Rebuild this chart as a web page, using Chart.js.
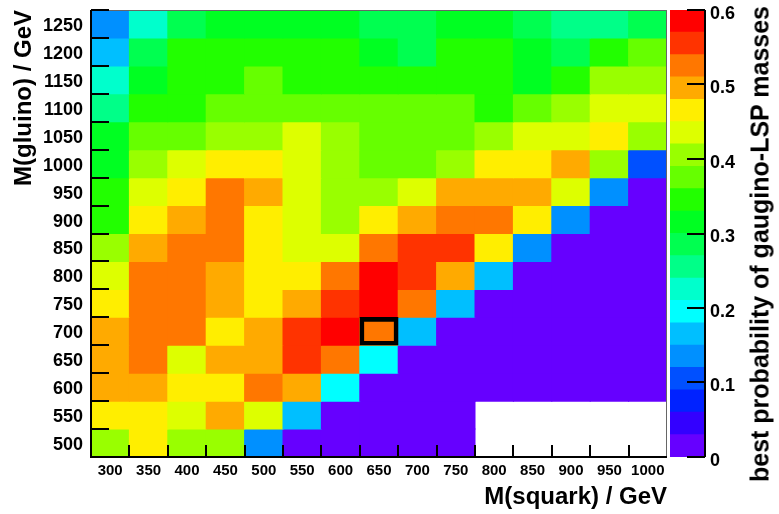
<!DOCTYPE html>
<html>
<head>
<meta charset="utf-8">
<script src="https://cdn.jsdelivr.net/npm/chart.js@4.4.1/dist/chart.umd.min.js"></script>
<style>
  body { margin: 0; background: #fff; }
  #wrap { position: relative; width: 779px; height: 514px; overflow: hidden; }
  canvas { position: absolute; top: 0; }
  #main { left: 0; }
  #scale { left: 660px; }
  #ztitle {
    position: absolute; left: 760px; top: 244px;
    transform: translate(-50%, -50%) rotate(-90deg);
    white-space: nowrap; color: #000;
    font: bold 25px 'Liberation Sans', Arial, sans-serif;
  }
</style>
</head>
<body>
<div id="wrap">
  <canvas id="main" width="779" height="514"></canvas>
  <canvas id="scale" width="119" height="514"></canvas>
  <div id="ztitle">best probability of gaugino-LSP masses</div>
</div>
<script>
// squark masses (columns) and gluino masses (rows, top to bottom)
const squark = ['300', '350', '400', '450', '500', '550', '600', '650', '700', '750', '800', '850', '900', '950', '1000'];
const gluino = [1250, 1200, 1150, 1100, 1050, 1000, 950, 900, 850, 800, 750, 700, 650, 600, 550, 500];

// best probability per cell, one row per gluino mass
const p1250 = [0.135, 0.225, 0.285, 0.315, 0.315, 0.315, 0.315, 0.285, 0.285, 0.315, 0.315, 0.285, 0.255, 0.255, 0.285];
const p1200 = [0.165, 0.285, 0.345, 0.345, 0.345, 0.345, 0.345, 0.315, 0.285, 0.345, 0.345, 0.315, 0.285, 0.345, 0.375];
const p1150 = [0.225, 0.315, 0.345, 0.345, 0.375, 0.345, 0.345, 0.345, 0.345, 0.345, 0.345, 0.315, 0.345, 0.405, 0.405];
const p1100 = [0.255, 0.345, 0.345, 0.375, 0.375, 0.375, 0.375, 0.375, 0.375, 0.375, 0.345, 0.375, 0.405, 0.435, 0.435];
const p1050 = [0.315, 0.375, 0.375, 0.405, 0.405, 0.435, 0.405, 0.375, 0.375, 0.375, 0.405, 0.435, 0.435, 0.465, 0.405];
const p1000 = [0.315, 0.405, 0.435, 0.465, 0.465, 0.435, 0.405, 0.375, 0.375, 0.405, 0.465, 0.465, 0.495, 0.405, 0.105];
const p950  = [0.345, 0.435, 0.465, 0.525, 0.495, 0.435, 0.405, 0.405, 0.435, 0.495, 0.495, 0.495, 0.435, 0.135, 0.015];
const p900  = [0.345, 0.465, 0.495, 0.525, 0.465, 0.435, 0.405, 0.465, 0.495, 0.525, 0.525, 0.465, 0.135, 0.015, 0.015];
const p850  = [0.405, 0.495, 0.525, 0.525, 0.465, 0.435, 0.435, 0.525, 0.555, 0.555, 0.465, 0.135, 0.015, 0.015, 0.015];
const p800  = [0.435, 0.525, 0.525, 0.495, 0.465, 0.465, 0.525, 0.585, 0.555, 0.495, 0.165, 0.015, 0.015, 0.015, 0.015];
const p750  = [0.465, 0.525, 0.525, 0.495, 0.465, 0.495, 0.555, 0.585, 0.525, 0.165, 0.015, 0.015, 0.015, 0.015, 0.015];
const p700  = [0.495, 0.525, 0.525, 0.465, 0.495, 0.555, 0.585, 0.525, 0.165, 0.015, 0.015, 0.015, 0.015, 0.015, 0.015];
const p650  = [0.495, 0.525, 0.435, 0.495, 0.495, 0.555, 0.525, 0.195, 0.015, 0.015, 0.015, 0.015, 0.015, 0.015, 0.015];
const p600  = [0.495, 0.495, 0.465, 0.465, 0.525, 0.495, 0.195, 0.015, 0.015, 0.015, 0.015, 0.015, 0.015, 0.015, 0.015];
const p550  = [0.465, 0.465, 0.435, 0.495, 0.435, 0.165, 0.015, 0.015, 0.015, 0.015, null, null, null, null, null];
const p500  = [0.405, 0.465, 0.405, 0.405, 0.135, 0.015, 0.015, 0.015, 0.015, 0.015, null, null, null, null, null];
const rows = [p1250, p1200, p1150, p1100, p1050, p1000, p950, p900, p850, p800, p750, p700, p650, p600, p550, p500];

// colour scale: 20 contours from 0 to 0.6
const zMax = 0.6;
const zTicks = [0, 0.1, 0.2, 0.3, 0.4, 0.5, 0.6];
const palette = ['#6600ff', '#3300ff', '#0022ff', '#0050ff', '#0090ff', '#00bfff', '#00ffff', '#00ffcc',
                 '#00ff88', '#00ff50', '#00ff22', '#22ff00', '#66ff00', '#99ff00', '#ddff00', '#ffee00',
                 '#ffaa00', '#ff7700', '#ff3300', '#ff0000'];
const boxed = { squark: '650', gluino: 700 };

const step = 50;
const binW = zMax / palette.length;
const font = "'Liberation Sans', Arial, sans-serif";

function colorFor(v) {
  if (v === null) return 'rgba(0,0,0,0)';
  return palette[Math.min(palette.length - 1, Math.floor(v / binW))];
}

const cellSets = gluino.map((m, r) => ({
  data: rows[r].map(v => v === null ? null : [m - step / 2, m + step / 2]),
  backgroundColor: rows[r].map(colorFor),
  borderWidth: 0,
  inflateAmount: 0.5,
  barPercentage: 1,
  categoryPercentage: 1,
  grouped: false,
  order: 2
}));

cellSets.push({
  data: squark.map(s => s === boxed.squark ? [boxed.gluino - step / 2, boxed.gluino + step / 2] : null),
  backgroundColor: 'rgba(0,0,0,0)',
  borderColor: '#000',
  borderWidth: 4,
  borderSkipped: false,
  barPercentage: 1,
  categoryPercentage: 1,
  grouped: false,
  order: 1
});

// ROOT style frame with ticks pointing into the plot
const innerTicks = {
  id: 'innerTicks',
  afterDatasetsDraw(chart) {
    const { ctx, chartArea: a, scales: { x, y } } = chart;
    ctx.save();
    ctx.strokeStyle = '#666';
    ctx.lineWidth = 1;
    ctx.beginPath();
    ctx.moveTo(a.left, a.top + 0.5);
    ctx.lineTo(a.right - 0.5, a.top + 0.5);
    ctx.lineTo(a.right - 0.5, a.bottom);
    ctx.stroke();

    ctx.strokeStyle = '#000';
    ctx.lineWidth = 2;
    ctx.beginPath();
    for (let i = 1; i < squark.length; i++) {
      const px = Math.round(x.getPixelForValue(i - 0.5));
      ctx.moveTo(px, a.bottom);
      ctx.lineTo(px, a.bottom - 12);
    }
    for (const m of gluino) {
      const py = Math.round(y.getPixelForValue(m + step / 2));
      ctx.moveTo(a.left, py);
      ctx.lineTo(a.left + 18, py);
    }
    ctx.moveTo(a.left, a.top);
    ctx.lineTo(a.left, a.bottom);
    ctx.lineTo(a.right, a.bottom);
    ctx.stroke();
    ctx.restore();
  }
};

new Chart(document.getElementById('main'), {
  type: 'bar',
  data: { labels: squark, datasets: cellSets },
  options: {
    responsive: false,
    animation: false,
    layout: { padding: { top: 10, right: 112, left: 0, bottom: 0 } },
    plugins: { legend: { display: false }, tooltip: { enabled: false } },
    scales: {
      x: {
        offset: true,
        grid: { display: false, drawTicks: false },
        border: { display: false },
        ticks: { color: '#000', font: { family: font, size: 15, weight: 'bold' }, padding: 5, maxRotation: 0, autoSkip: false },
        title: { display: true, text: 'M(squark) / GeV', align: 'end', color: '#000',
                 font: { family: font, size: 24, weight: 'bold' }, padding: { top: 0, bottom: 2 } },
        afterFit: s => { s.height = 57; }
      },
      y: {
        type: 'linear',
        min: gluino[gluino.length - 1] - step / 2,
        max: gluino[0] + step / 2,
        afterBuildTicks: s => { s.ticks = gluino.map(v => ({ value: v })); },
        grid: { display: false, drawTicks: false },
        border: { display: false },
        ticks: { color: '#000', font: { family: font, size: 18, weight: 'bold' }, padding: 8, labelOffset: 2,
                 callback: v => String(v) },
        title: { display: true, text: 'M(gluino) / GeV', align: 'end', color: '#000',
                 font: { family: font, size: 24, weight: 'bold' }, padding: { top: 10, bottom: 0 } },
        afterFit: s => { s.width = 91; s.paddingTop = 0; s.paddingBottom = 0; }
      }
    }
  },
  plugins: [innerTicks]
});

// colour bar
const barTicks = {
  id: 'barTicks',
  afterDatasetsDraw(chart) {
    const { ctx, chartArea: a, scales: { y } } = chart;
    ctx.save();
    ctx.strokeStyle = '#000';
    ctx.lineWidth = 2;
    ctx.beginPath();
    for (const t of zTicks) {
      const py = Math.round(y.getPixelForValue(t));
      ctx.moveTo(a.right, py);
      ctx.lineTo(a.right - 18, py);
    }
    ctx.moveTo(a.right, a.top);
    ctx.lineTo(a.right, a.bottom);
    ctx.stroke();
    ctx.restore();
  }
};

new Chart(document.getElementById('scale'), {
  type: 'bar',
  data: {
    labels: [''],
    datasets: palette.map((c, k) => ({
      data: [[k * binW, (k + 1) * binW]],
      backgroundColor: c,
      borderWidth: 0,
      inflateAmount: 0.5,
      barPercentage: 1,
      categoryPercentage: 1,
      grouped: false
    }))
  },
  options: {
    responsive: false,
    animation: false,
    layout: { padding: { top: 10, right: 0, left: 10, bottom: 57 } },
    plugins: { legend: { display: false }, tooltip: { enabled: false } },
    scales: {
      x: { display: false },
      y: {
        position: 'right',
        min: 0,
        max: zMax,
        afterBuildTicks: s => { s.ticks = zTicks.map(v => ({ value: v })); },
        grid: { display: false, drawTicks: false },
        border: { display: false },
        ticks: { color: '#000', font: { family: font, size: 18, weight: 'bold' }, padding: 5, labelOffset: 4 },
        afterFit: s => { s.width = 74; s.paddingTop = 0; s.paddingBottom = 0; }
      }
    }
  },
  plugins: [barTicks]
});
</script>
</body>
</html>
